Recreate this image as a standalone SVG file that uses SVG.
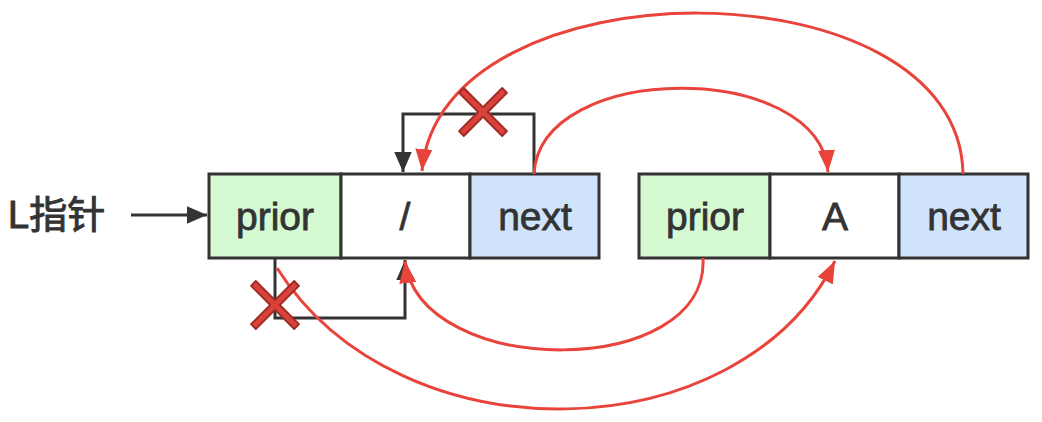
<svg xmlns="http://www.w3.org/2000/svg" width="1042" height="422" viewBox="0 0 1042 422">
<defs>
<style>
.cell{stroke:#333;stroke-width:3}
.prior{fill:#d5f9d1}
.next{fill:#cfe3fb}
.data{fill:#fff}
.t{font-family:"Liberation Sans","Noto Sans CJK SC",sans-serif;font-size:39px;fill:#333;stroke:#333;stroke-width:0.8;text-anchor:middle;dominant-baseline:central}
.blk{fill:none;stroke:#333;stroke-width:3}
.red{fill:none;stroke:#e8443c;stroke-width:3}
.x{fill:#d8423b;stroke:#9e2a24;stroke-width:1.5;stroke-linejoin:round}
</style>
<marker id="ab" markerUnits="userSpaceOnUse" markerWidth="20" markerHeight="20" refX="16" refY="8" orient="auto" viewBox="0 0 16 16">
<path d="M0,1 L16,8 L0,15 Z" fill="#333"/>
</marker>
<marker id="ar" markerUnits="userSpaceOnUse" markerWidth="22" markerHeight="22" refX="18" refY="8" orient="auto" viewBox="0 0 18 16">
<path d="M0,1 L18,8 L0,15 Z" fill="#e8443c"/>
</marker>
<path id="xm" d="M-20,-16 L-16,-20 L0,-4 L16,-20 L20,-16 L4,0 L20,16 L16,20 L0,4 L-16,20 L-20,16 L-4,0 Z"/>
</defs>
<rect width="1042" height="422" fill="#fff"/>
<g id="label">
<text x="8" y="215" style="font-family:'Liberation Sans','Noto Sans CJK SC',sans-serif;font-size:38px;fill:#333;stroke:#333;stroke-width:1" dominant-baseline="central">L指针</text>
</g>
<g id="node1">
<rect class="cell prior" x="209" y="174" width="132" height="84"/>
<rect class="cell data" x="341" y="174" width="129" height="84"/>
<rect class="cell next" x="470" y="174" width="129" height="84"/>
<text class="t" x="275" y="216">prior</text>
<text class="t" x="405" y="216">/</text>
<text class="t" x="535" y="216">next</text>
</g>
<g id="node2">
<rect class="cell prior" x="639" y="174" width="131" height="84"/>
<rect class="cell data" x="770" y="174" width="129" height="84"/>
<rect class="cell next" x="899" y="174" width="129" height="84"/>
<text class="t" x="705" y="216">prior</text>
<text class="t" x="835" y="216">A</text>
<text class="t" x="964" y="216">next</text>
</g>
<g id="connectors">
<line class="blk" x1="131" y1="215" x2="207" y2="215" marker-end="url(#ab)"/>
<path class="blk" d="M534,174 V114 H403 V172" marker-end="url(#ab)"/>
<path class="blk" d="M275,258 V318 H405 V260" marker-end="url(#ab)"/>
<path class="red" d="M534,174 C540,60 820,60 828,172" marker-end="url(#ar)"/>
<path class="red" d="M963,174 C960,-40 440,-40 422,171" marker-end="url(#ar)"/>
<path class="red" d="M703,258 C710,380 420,380 405,261" marker-end="url(#ar)"/>
<path class="red" d="M277,268 C400,462 740,452 835,261" marker-end="url(#ar)"/>
</g>
<g id="crosses">
<use href="#xm" class="x" transform="translate(483,112) scale(1.2)"/>
<use href="#xm" class="x" transform="translate(275,305) scale(1.2)"/>
</g>
</svg>
